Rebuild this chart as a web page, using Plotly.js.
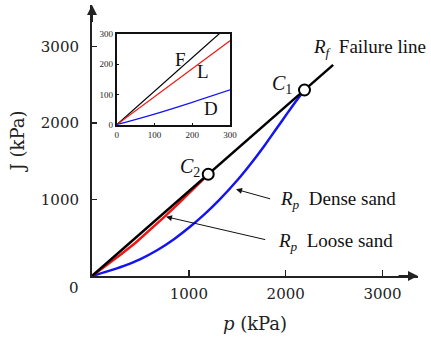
<!DOCTYPE html>
<html>
<head>
<meta charset="utf-8">
<script src="https://cdn.plot.ly/plotly-3.0.1.min.js"></script>
<style>html,body{margin:0;padding:0;background:#fff;}#chart{width:431px;height:341px;}</style>
</head>
<body>
<div id="chart"></div>
<script>
// Main panel data (p in kPa, J in kPa)
const failureP = [0, 2490];
const failureJ = [0, 2760];
const denseP = [0, 150, 330, 500, 672, 850, 1015, 1160, 1307, 1500, 1650, 1771, 1900, 2012, 2100, 2194];
const denseJ = [0, 57, 133, 221, 336, 484, 646, 805, 985, 1251, 1484, 1687, 1917, 2119, 2273, 2431];
const looseP = [0, 150, 300, 450, 600, 750, 900, 1050, 1200];
const looseJ = [0, 140, 283, 435, 600, 775, 955, 1140, 1330];
const pointNames = ['C1', 'C2'];
const pointP = [2194, 1200];
const pointJ = [2431, 1330];
const mainTicks = [1000, 2000, 3000];
// Inset data
const insetP = [0, 100, 200, 300];
const insetF = [0, 110.8, 221.6, 332.4];
const insetL = [0, 92.7, 185.3, 278];
const insetD = [0, 35, 74, 115];
const insetTicks = [0, 100, 200, 300];

const serif = 'Liberation Serif, Times New Roman, serif';
const tickFont = {family: 'DejaVu Serif, serif', size: 15, color: '#222'};

const traces = [
  {x: denseP, y: denseJ, mode: 'lines', line: {color: '#1414f0', width: 2.5, shape: 'spline', smoothing: 0.5}, xaxis: 'x', yaxis: 'y', hoverinfo: 'skip'},
  {x: looseP, y: looseJ, mode: 'lines', line: {color: '#f01414', width: 2.5}, xaxis: 'x', yaxis: 'y', hoverinfo: 'skip'},
  {x: failureP, y: failureJ, mode: 'lines', line: {color: '#000', width: 2.5}, xaxis: 'x', yaxis: 'y', hoverinfo: 'skip'},
  {x: pointP, y: pointJ, text: pointNames, mode: 'markers', marker: {size: 11, color: '#fff', line: {color: '#000', width: 2}}, xaxis: 'x', yaxis: 'y', hoverinfo: 'skip', cliponaxis: false},
  {x: insetP, y: insetF, mode: 'lines', line: {color: '#000', width: 1.2}, xaxis: 'x2', yaxis: 'y2', hoverinfo: 'skip'},
  {x: insetP, y: insetL, mode: 'lines', line: {color: '#f01414', width: 1.2}, xaxis: 'x2', yaxis: 'y2', hoverinfo: 'skip'},
  {x: insetP, y: insetD, mode: 'lines', line: {color: '#1414f0', width: 1.2, shape: 'spline'}, xaxis: 'x2', yaxis: 'y2', hoverinfo: 'skip'}
];

const txt = (x, y, text, size, extra) => Object.assign({x: x, y: y, xref: 'x', yref: 'y', text: text, showarrow: false, font: {family: serif, size: size, color: '#111'}}, extra || {});
const arrow = (x, y, ax, ay) => ({x: x, y: y, ax: ax, ay: ay, xref: 'x', yref: 'y', axref: 'x', ayref: 'y', text: '', showarrow: true, arrowhead: 2, arrowsize: 1.2, arrowwidth: 1, arrowcolor: '#111'});

const annotations = [
  txt(1962, 2509, '<i>C</i><sub>1</sub>', 20),
  txt(1012, 1412, '<i>C</i><sub>2</sub>', 20),
  txt(2870, 2985, '<i>R</i><sub><i>f</i></sub>  Failure line', 19),
  txt(2545, 993, '<i>R</i><sub><i>p</i></sub>  Dense sand', 19),
  txt(2512, 444, '<i>R</i><sub><i>p</i></sub>  Loose sand', 19),
  arrow(1487, 1133, 1855, 1003),
  arrow(764, 775, 1804, 471),
  {x: 3366, y: 0, ax: 3150, ay: 0, xref: 'x', yref: 'y', axref: 'x', ayref: 'y', text: '', showarrow: true, arrowhead: 2, arrowsize: 1, arrowwidth: 2, arrowcolor: '#222'},
  {x: 0, y: 3542, ax: 0, ay: 3300, xref: 'x', yref: 'y', axref: 'x', ayref: 'y', text: '', showarrow: true, arrowhead: 2, arrowsize: 1, arrowwidth: 2, arrowcolor: '#222'},
  {x: -0.0347, y: -0.0443, xref: 'paper', yref: 'paper', xanchor: 'right', yanchor: 'middle', text: '0', showarrow: false, font: tickFont},
  {x: 170, y: 215, xref: 'x2', yref: 'y2', text: 'F', showarrow: false, font: {family: serif, size: 19, color: '#111'}},
  {x: 229, y: 177, xref: 'x2', yref: 'y2', text: 'L', showarrow: false, font: {family: serif, size: 19, color: '#111'}},
  {x: 250, y: 55, xref: 'x2', yref: 'y2', text: 'D', showarrow: false, font: {family: serif, size: 19, color: '#111'}}
];

const layout = {
  width: 431, height: 341,
  margin: {l: 92, r: 13, t: 5, b: 65},
  paper_bgcolor: '#fff', plot_bgcolor: 'rgba(0,0,0,0)',
  showlegend: false,
  xaxis: {range: [0, 3366], showgrid: false, zeroline: false, showline: true, linecolor: '#222', linewidth: 2,
          tickvals: mainTicks, ticktext: mainTicks.map(String), ticks: 'inside', ticklen: 6, tickwidth: 1.5, tickcolor: '#222',
          tickfont: tickFont, ticklabelstandoff: 3,
          title: {text: '<i>p</i> (kPa)', font: {family: 'DejaVu Serif, serif', size: 18, color: '#222'}, standoff: 15}},
  yaxis: {range: [0, 3542], showgrid: false, zeroline: false, showline: true, linecolor: '#222', linewidth: 2,
          tickvals: mainTicks, ticktext: mainTicks.map(String), ticks: 'inside', ticklen: 5, tickwidth: 1.5, tickcolor: '#222',
          tickfont: tickFont, ticklabelstandoff: 8,
          title: {text: 'J (kPa)', font: {family: 'DejaVu Serif, serif', size: 18, color: '#222'}, standoff: 12}},
  xaxis2: {domain: [0.0758, 0.4233], anchor: 'y2', range: [0, 300], showgrid: false, zeroline: false, showline: true, mirror: true,
           linecolor: '#111', linewidth: 2, tickvals: insetTicks, ticks: 'inside', ticklen: 2, tickcolor: '#111',
           tickfont: {family: serif, size: 9, color: '#222'}, ticklabelstandoff: 0},
  yaxis2: {domain: [0.5583, 0.893], anchor: 'x2', range: [0, 300], showgrid: false, zeroline: false, showline: true, mirror: true,
           linecolor: '#111', linewidth: 2, tickvals: insetTicks, ticks: 'inside', ticklen: 2, tickcolor: '#111',
           tickfont: {family: serif, size: 9, color: '#222'}, ticklabelstandoff: 0},
  annotations: annotations
};

Plotly.newPlot('chart', traces, layout, {displayModeBar: false, staticPlot: true});
</script>
</body>
</html>
